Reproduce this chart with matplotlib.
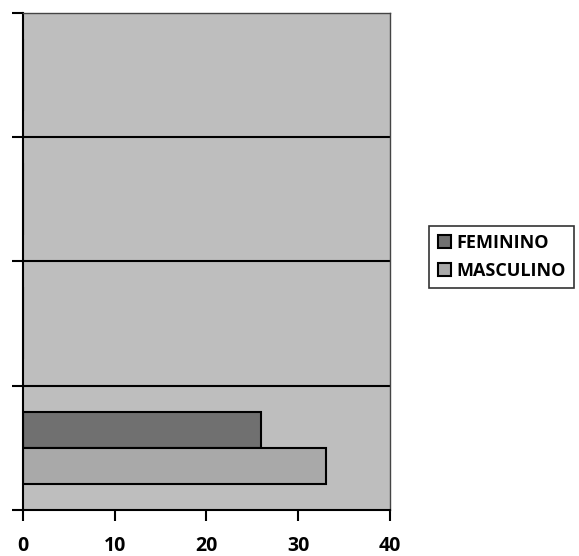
import matplotlib
matplotlib.use("Agg")
import matplotlib.pyplot as plt
import numpy as np

categories = ["", "", "", ""]
feminino = [26, 0, 0, 0]
masculino = [33, 0, 0, 0]
series_names = ["FEMININO", "MASCULINO"]
xticks = [0, 10, 20, 30, 40]

plt.rcParams['font.family'] = ['Open Sans', 'DejaVu Sans']

fig = plt.figure(figsize=(5.79, 5.56), dpi=100)
ax = fig.add_axes([0.040, 0.083, 0.633, 0.894])
ax.set_facecolor('#bebebe')

y = np.arange(len(categories))
h = 0.29
ax.barh(y + h / 2, feminino, height=h, color='#707070', edgecolor='black', linewidth=1.5, label=series_names[0])
ax.barh(y - h / 2, masculino, height=h, color='#a9a9a9', edgecolor='black', linewidth=1.5, label=series_names[1])

ax.set_xlim(0, 40)
ax.set_ylim(-0.5, len(categories) - 0.5)
ax.set_xticks(xticks)
ax.set_xticklabels([str(t) for t in xticks], fontsize=14, fontweight='bold')
ax.set_yticks(np.arange(len(categories) + 1) - 0.5)
ax.set_yticklabels([])
for b in np.arange(1, len(categories)) - 0.5:
    ax.axhline(b, color='black', linewidth=1.5, zorder=1)
ax.tick_params(axis='x', direction='out', length=8, width=1.5, pad=11)
ax.tick_params(axis='y', direction='out', length=8, width=1.5)
for s in ['left', 'bottom']:
    ax.spines[s].set_linewidth(1.5)
for s in ['top', 'right']:
    ax.spines[s].set_linewidth(1.0)
    ax.spines[s].set_color('#444444')
ax.set_axisbelow(True)

leg = fig.legend(loc='center left', bbox_to_anchor=(0.726, 0.538), frameon=True,
                 fancybox=False, edgecolor='black', prop={'weight': 'bold', 'size': 13},
                 handlelength=0.75, handleheight=0.75, handletextpad=0.3, borderpad=0.45,
                 labelspacing=0.55)
leg.get_frame().set_linewidth(1.2)

fig.savefig('out.png', dpi=100, facecolor='white')
